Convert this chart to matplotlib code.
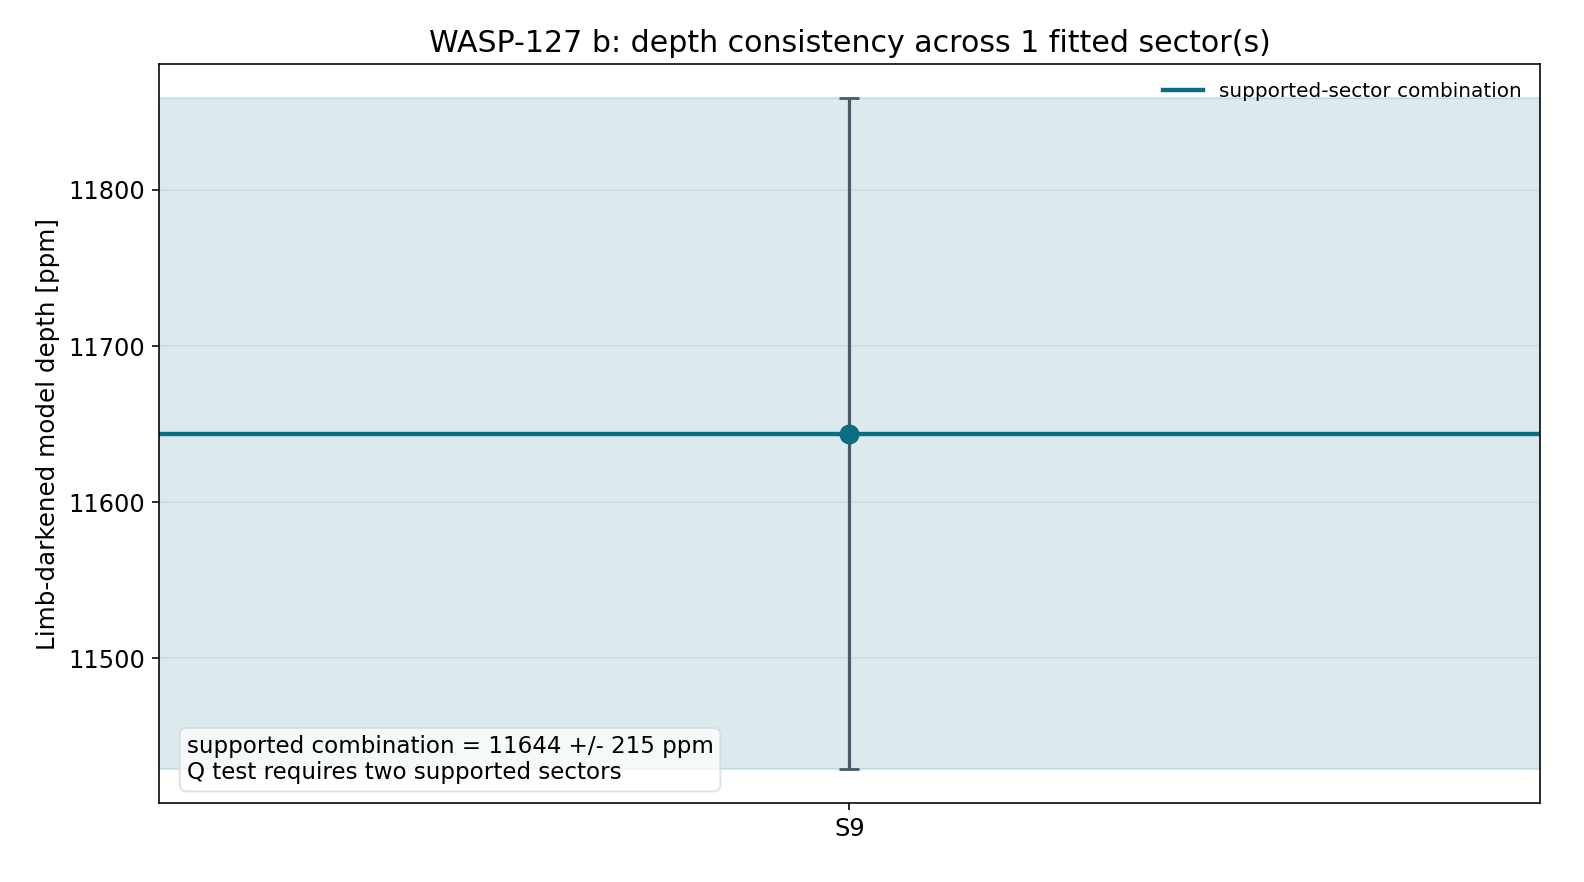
import numpy as np
import matplotlib
matplotlib.use("Agg")
import matplotlib.pyplot as plt

# data
target = "WASP-127 b"
sectors = ["S9"]
depths = [11644.0]
errors = [215.0]
combined = 11644.0
combined_err = 215.0

teal = "#0b6e82"
bar_col = "#4b5a66"

fig = plt.figure(figsize=(11, 6.125), dpi=144)
ax = fig.add_axes([0.1004, 0.0896, 0.8718, 0.8378])

x = np.arange(len(sectors))
ax.axhspan(combined - combined_err, combined + combined_err,
           color=teal, alpha=0.14, lw=1.2, zorder=0)
ax.axhline(combined, color=teal, lw=2.2, label="supported-sector combination", zorder=2)
ax.errorbar(x, depths, yerr=errors, fmt="o", color=teal, ecolor=bar_col,
            elinewidth=1.6, capsize=5, capthick=1.4, ms=9, zorder=3)

ax.set_xlim(-0.5, 0.5)
ax.set_xticks(x)
ax.set_xticklabels(sectors)
ax.tick_params(labelsize=12)
ax.grid(axis="y", color="#c8d2d0", alpha=0.6, lw=0.9)
ax.set_axisbelow(True)

ax.set_ylabel("Limb-darkened model depth [ppm]", fontsize=12.3)
ax.set_title(f"{target}: depth consistency across {len(sectors)} fitted sector(s)",
             fontsize=15, pad=6)
ax.legend(loc="upper right", frameon=False, fontsize=10)

ax.text(0.02, 0.025,
        f"supported combination = {combined:.0f} +/- {combined_err:.0f} ppm\n"
        "Q test requires two supported sectors",
        transform=ax.transAxes, fontsize=11.5, va="bottom", ha="left",
        bbox=dict(boxstyle="round,pad=0.3", fc="white", ec="#d0dadc", alpha=0.75))

fig.savefig("out.png", dpi=144)
